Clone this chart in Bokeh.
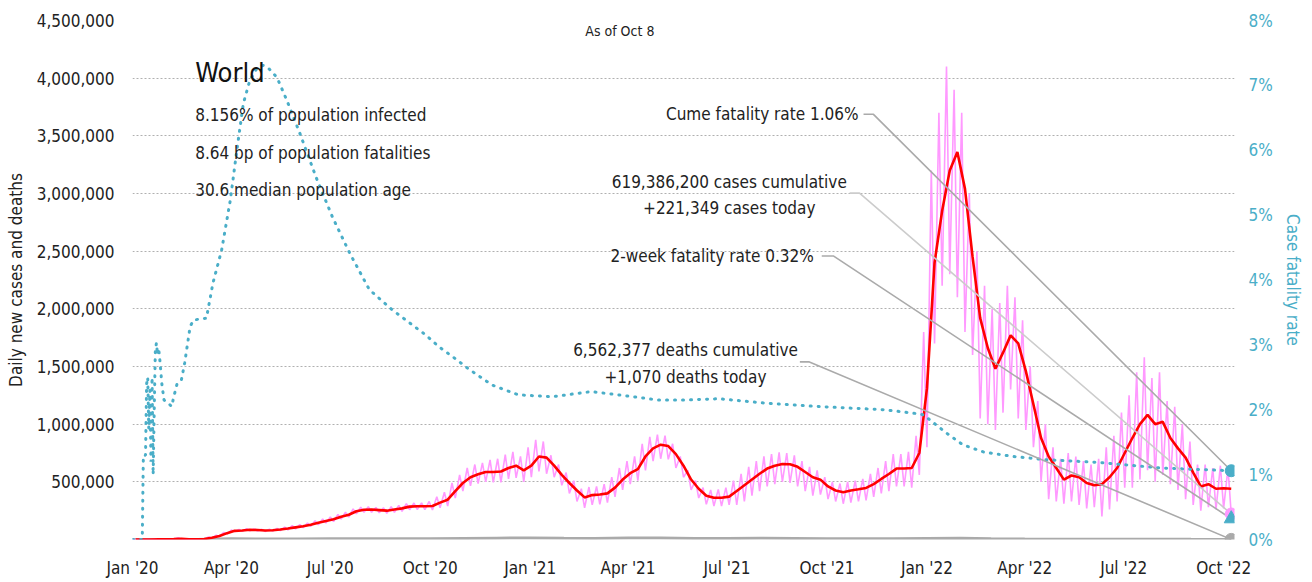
import pandas as pd
from bokeh.plotting import figure
from bokeh.models import (Range1d, LinearAxis, FixedTicker, NumeralTickFormatter,
                          DatetimeTickFormatter, Label)
from bokeh.embed import file_html
from bokeh.resources import INLINE

FONT = "DejaVu Sans Condensed"

START = pd.Timestamp("2020-01-01")
END = pd.Timestamp("2022-10-11")
AS_OF = pd.Timestamp("2022-10-08")

# ---- data ----
# 7-day average of daily new cases, thousands, one value per week (Jan 4 2020 ... Oct 8 2022)
week_avg_k = [0, 0, 0, 2, 2, 3, 5, 2, 2, 4,
              15, 30, 55, 75, 78, 85, 82, 78, 80, 87,
              95, 105, 115, 128, 145, 160, 175, 198, 215, 245,
              258, 260, 255, 250, 260, 270, 285, 288, 288, 290,
              320, 345, 420, 490, 540, 565, 585, 585, 590, 620,
              640, 600, 640, 720, 710, 640, 560, 490, 425, 365,
              385, 390, 400, 450, 520, 575, 610, 720, 790, 822,
              810, 740, 640, 520, 440, 380, 362, 362, 372, 420,
              470, 520, 570, 615, 640, 655, 652, 630, 585, 540,
              519, 460, 425, 410, 425, 435, 447, 480, 525, 568,
              615, 615, 620, 750, 1310, 2400, 2850, 3200, 3360, 3040,
              2450, 1920, 1660, 1480, 1620, 1770, 1700, 1460, 1170, 880,
              720, 620, 519, 555, 540, 490, 470, 480, 540, 620,
              750, 880, 1000, 1080, 1000, 1020, 880, 790, 710, 580,
              460, 480, 440, 445, 440]
# daily new cases: weekly high and weekly low, thousands
daily_hi_k = [0, 0, 1, 3, 4, 4, 15, 3, 3, 6,
              22, 38, 62, 82, 88, 95, 92, 88, 90, 97,
              108, 120, 130, 143, 162, 178, 195, 218, 236, 266,
              280, 284, 278, 274, 284, 296, 312, 316, 318, 330,
              370, 410, 490, 560, 620, 650, 665, 690, 700, 735,
              760, 720, 800, 865, 850, 730, 650, 580, 510, 440,
              455, 460, 480, 540, 620, 680, 720, 830, 890, 910,
              900, 830, 720, 600, 510, 450, 430, 435, 450, 510,
              570, 630, 680, 720, 740, 755, 750, 730, 680, 630,
              600, 540, 500, 485, 500, 510, 525, 570, 620, 680,
              740, 740, 760, 900, 1800, 3200, 3700, 4100, 3900, 3700,
              3000, 2500, 2200, 2000, 2050, 2200, 2100, 1900, 1500, 1200,
              1000, 800, 700, 750, 720, 680, 650, 700, 800, 900,
              1100, 1250, 1450, 1580, 1400, 1450, 1200, 1150, 1000, 850,
              650, 650, 620, 640, 620]
daily_lo_k = [0, 0, 0, 1, 1, 2, 2, 1, 1, 3,
              10, 25, 48, 68, 70, 76, 73, 70, 72, 78,
              84, 92, 102, 114, 128, 142, 156, 178, 194, 222,
              236, 236, 232, 226, 236, 244, 258, 260, 258, 255,
              275, 290, 360, 420, 465, 485, 500, 495, 495, 525,
              535, 500, 540, 590, 570, 540, 470, 400, 330, 275,
              300, 305, 320, 370, 430, 480, 510, 600, 680, 700,
              695, 620, 540, 430, 360, 305, 290, 290, 300, 300,
              330, 380, 420, 460, 480, 500, 490, 460, 420, 380,
              390, 350, 330, 310, 320, 330, 340, 370, 400, 420,
              460, 460, 450, 560, 800, 1700, 2200, 2300, 2100, 1800,
              1600, 1050, 1000, 950, 1100, 1300, 1050, 950, 800, 500,
              350, 330, 310, 330, 300, 270, 280, 200, 260, 330,
              450, 450, 520, 600, 500, 560, 480, 430, 350, 300,
              250, 280, 260, 270, 221]
# daily deaths, thousands, one value per month (Jan 2020 ... Oct 2022)
deaths_month_k = [0, 0.2, 1, 6.5, 4.5, 4.5, 5.5, 5.8, 5.5, 6, 9.5, 11.5,
                  14, 11, 9, 12, 12, 9, 8, 10, 9, 7, 7, 7,
                  9, 10.5, 6, 3.5, 2.5, 1.5, 2, 2.3, 1.6, 1.07]
# case fatality rate (%) by day since Jan 1 2020
cfr_day = [0, 9, 10, 12, 13, 14, 15, 16, 17, 18, 19, 20, 21, 22, 23, 24, 25, 27, 29,
           33, 36, 38, 41, 45, 48, 53, 56, 62, 68, 74, 82, 90, 96, 102, 108, 114,
           120, 126, 133, 142, 154, 169, 184, 200, 218, 239, 270, 282, 296, 310,
           331, 355, 386, 422, 447, 484, 510, 539, 584, 630, 692, 722, 728, 737,
           749, 764, 783, 810, 841, 887, 948, 1011]
cfr_pct = [0, 0, 1.3, 1.3, 2.4, 2.5, 1.7, 2.3, 1.2, 2.5, 1.0, 2.0, 2.9, 3.03, 2.85,
           2.95, 2.8, 2.4, 2.15, 2.1, 2.05, 2.2, 2.4, 2.46, 2.72, 3.28, 3.38, 3.4,
           3.41, 3.95, 4.46, 5.23, 6.0, 6.72, 7.08, 7.25, 7.31, 7.25, 7.12, 6.77,
           6.26, 5.58, 4.97, 4.41, 3.85, 3.54, 3.15, 2.97, 2.8, 2.62, 2.38, 2.23,
           2.2, 2.28, 2.23, 2.15, 2.15, 2.17, 2.1, 2.05, 2.0, 1.94, 1.92, 1.8, 1.64,
           1.46, 1.35, 1.28, 1.23, 1.19, 1.1, 1.06]

cume_cfr = 1.06
twoweek_cfr = 0.32
cases_cum = 619386200
cases_today = 221349
deaths_cum = 6562377
deaths_today = 1070
pct_infected = 8.156
bp_fatalities = 8.64
median_age = 30.6

left_ticks = [500000 * i for i in range(1, 10)]
right_ticks = [i / 100 for i in range(0, 9)]
x_tick_dates = pd.date_range("2020-01-01", "2022-10-01", freq="QS")

# ---- derived series ----
week_dates = pd.date_range("2020-01-04", periods=len(week_avg_k), freq="7D")
avg_vals = [v * 1000 for v in week_avg_k]
pink_x, pink_y = [], []
for k in range(len(daily_hi_k)):
    pink_x.append(START + pd.Timedelta(days=7 * k))
    pink_y.append(daily_hi_k[k] * 1000)
    pink_x.append(START + pd.Timedelta(days=7 * k + 3))
    pink_y.append(daily_lo_k[k] * 1000)
death_dates = list(pd.date_range("2020-01-01", periods=len(deaths_month_k) - 1, freq="MS")) + [AS_OF]
death_vals = [v * 1000 for v in deaths_month_k]
cfr_dates = [START + pd.Timedelta(days=d) for d in cfr_day]
cfr_vals = [v / 100 for v in cfr_pct]

# ---- layout helpers (page pixels -> data) ----
FL, FR, FT, FB = 132, 1240, 20, 540
W, H = 1305, 580
PXDAY = (FR - FL) / (END - START).days
def X(px):
    return (START + pd.Timedelta(days=(px - FL) / PXDAY)).value / 1e6
def Y(py):
    return (FB - py) / (FB - FT) * 4.5e6
def YR(py):
    return (FB - py) / (FB - FT) * 0.08

TEAL = "#4aaec8"
PINK = "#ff99ff"
GRAY = "#aaaaaa"

p = figure(width=W, height=H, x_axis_type="datetime", output_backend="svg",
           toolbar_location=None, x_range=Range1d(START, END), y_range=Range1d(0, 4.5e6),
           min_border_left=FL, min_border_right=W - FR, min_border_top=FT,
           min_border_bottom=H - FB)
p.outline_line_color = None
p.background_fill_color = "white"
p.border_fill_color = "white"
p.xgrid.visible = False
p.ygrid.ticker = FixedTicker(ticks=left_ticks)
p.ygrid.grid_line_color = "#b0b0b0"
p.ygrid.grid_line_dash = "2 2"
p.ygrid.grid_line_width = 1

p.extra_y_ranges = {"cfr": Range1d(0, 0.08)}

# axes
yax = p.yaxis[0]
yax.ticker = FixedTicker(ticks=left_ticks)
yax.formatter = NumeralTickFormatter(format="0,0")
yax.axis_label = "Daily new cases and deaths"

rax = LinearAxis(y_range_name="cfr", ticker=FixedTicker(ticks=right_ticks),
                 formatter=NumeralTickFormatter(format="0%"), axis_label="Case fatality rate")
p.add_layout(rax, "right")

xax = p.xaxis[0]
xax.ticker = FixedTicker(ticks=[d.value / 1e6 for d in x_tick_dates])
fmt = "%b '%y"
xax.formatter = DatetimeTickFormatter(days=fmt, months=fmt, years=fmt, hours=fmt)

for ax in (yax, rax, xax):
    ax.axis_line_color = None
    ax.major_tick_line_color = None
    ax.major_tick_out = 0
    ax.major_tick_in = 0
    ax.minor_tick_line_color = None
    ax.major_label_text_font = FONT
    ax.major_label_text_font_size = "17px"
    ax.axis_label_text_font = FONT
    ax.axis_label_text_font_size = "17px"
    ax.axis_label_text_font_style = "normal"
yax.major_label_text_color = "#222222"
xax.major_label_text_color = "#222222"
yax.major_label_standoff = 18
yax.axis_label_standoff = 8
yax.axis_label_text_color = "#222222"
xax.major_label_standoff = 18
rax.major_label_text_color = TEAL
rax.axis_label_text_color = TEAL
rax.major_label_standoff = 14
rax.axis_label_standoff = 7

# series
p.line(death_dates, death_vals, line_color=GRAY, line_width=3)
p.line(pink_x, pink_y, line_color=PINK, line_width=1.6)
p.line(week_dates, avg_vals, line_color="#ff0000", line_width=2.6)
p.line(cfr_dates, cfr_vals, y_range_name="cfr", line_color=TEAL, line_width=3,
       line_dash="1 7", line_cap="round")

# leader lines
def leader(x0, x1, py, y_end, rng=None, color=GRAY):
    ys = [YR(py) if rng else Y(py)] * 2 + [y_end]
    kw = {"y_range_name": rng} if rng else {}
    p.line([X(x0), X(x1), AS_OF.value / 1e6], ys, line_color=color, line_width=1.6, **kw)

leader(867, 877, 114, cume_cfr / 100, rng="cfr")
leader(853, 863, 193, cases_today, color="#cccccc")
leader(825, 837, 256, twoweek_cfr / 100, rng="cfr")
leader(803, 812, 362, deaths_today)

# end markers
p.scatter([AS_OF], [cume_cfr / 100], y_range_name="cfr", marker="circle", size=12,
          fill_color=TEAL, line_color=TEAL)
p.scatter([AS_OF], [cases_today], marker="circle", size=12, fill_color=PINK, line_color=PINK)
p.scatter([AS_OF], [twoweek_cfr / 100], y_range_name="cfr", marker="triangle", size=14,
          fill_color=TEAL, line_color=TEAL)
p.scatter([AS_OF], [deaths_today], marker="circle", size=12, fill_color=GRAY, line_color=GRAY)

# texts
def label(px, py, text, align="left", size="17px", color="#222222"):
    p.add_layout(Label(x=X(px), y=Y(py), text=text, text_font=FONT, text_font_size=size,
                       text_align=align, text_baseline="middle", text_color=color))

label(195, 72, "World", size="27px", color="#111111")
label(195, 115, f"{pct_infected}% of population infected")
label(195, 153, f"{bp_fatalities} bp of population fatalities")
label(195, 190, f"{median_age} median population age")
label(622, 31, f"As of {AS_OF.strftime('%b')} {AS_OF.day}", align="center", size="14px")
label(862, 114, f"Cume fatality rate {cume_cfr:.2f}%", align="right")
label(732, 182, f"{cases_cum:,} cases cumulative", align="center")
label(732, 208, f"+{cases_today:,} cases today", align="center")
label(817, 256, f"2-week fatality rate {twoweek_cfr:.2f}%", align="right")
label(688, 350, f"{deaths_cum:,} deaths cumulative", align="center")
label(688, 377, f"+{deaths_today:,} deaths today", align="center")

open("out.html", "w").write(file_html(p, INLINE))
